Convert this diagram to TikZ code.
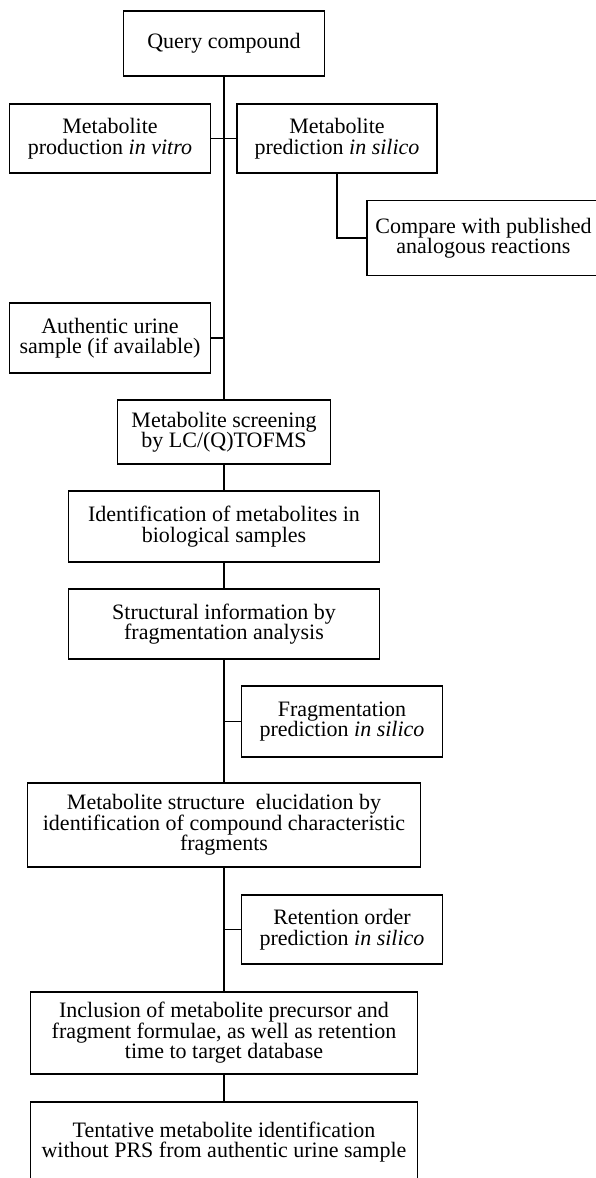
\documentclass[tikz,border=0pt]{standalone}
\usepackage{fontspec}
\setmainfont{Liberation Serif}
\usepackage{tikz}
\usetikzlibrary{positioning, calc}

\tikzset{
    box/.style={draw, line width=1.2pt, align=center, inner sep=0pt, font=\fontsize{22}{20.5}\selectfont},
    link/.style={line width=1.6pt}
}

\begin{document}
\begin{tikzpicture}[x=1pt, y=-1pt]
        \useasboundingbox (0,0) rectangle (595,1178);

        \node[box, minimum width=201pt, minimum height=65pt] (query) at (224,43.5) {Query compound};
        \node[box, minimum width=200.5pt, minimum height=69pt] (prodvitro) at (110,138.5) {Metabolite\\production \textit{in vitro}};
        \node[box, minimum width=200pt, minimum height=69pt] (predsilico) at (337,138.5) {Metabolite\\prediction \textit{in silico}};
        \node[box, minimum width=233pt, minimum height=75pt] (compare) at (483.5,238) {Compare with published\\analogous reactions};
        \node[box, minimum width=200.5pt, minimum height=70pt] (urine) at (110,338) {Authentic urine\\sample (if available)};
        \node[box, minimum width=213pt, minimum height=64pt] (screening) at (224,432) {Metabolite screening\\by LC/(Q)TOFMS};
        \node[box, minimum width=311pt, minimum height=71pt] (ident) at (224,526.5) {Identification of metabolites in\\biological samples};
        \node[box, minimum width=311pt, minimum height=70pt] (struct) at (224,624) {Structural information by\\fragmentation analysis};
        \node[box, minimum width=200.5pt, minimum height=71pt] (fragpred) at (342,721.5) {Fragmentation\\prediction \textit{in silico}};
        \node[box, minimum width=393.5pt, minimum height=84pt] (elucid) at (224,825) {Metabolite structure \ elucidation by\\identification of compound characteristic\\fragments};
        \node[box, minimum width=200.5pt, minimum height=69pt] (retpred) at (342,929.5) {Retention order\\prediction \textit{in silico}};
        \node[box, minimum width=387.5pt, minimum height=82pt] (inclusion) at (224,1033) {Inclusion of metabolite precursor and\\fragment formulae, as well as retention\\time to target database};
        \node[box, minimum width=387.5pt, minimum height=80pt] (tentative) at (224,1142) {Tentative metabolite identification\\without PRS from authentic urine sample};

        % main line and side branches
        \draw[link] (query) -- (screening);
        \draw[link] (prodvitro.east) -- (predsilico.west);
        \draw[link] (predsilico.south) |- (compare.west);
        \draw[link] (urine.east) -- (urine.east -| query.south);
        \foreach \a/\b in {screening/ident, ident/struct, struct/elucid, elucid/inclusion, inclusion/tentative} {
            \draw[link] (\a) -- (\b);
        }
        \draw[link] (fragpred.west) -- (fragpred.west -| struct.south);
        \draw[link] (retpred.west) -- (retpred.west -| elucid.south);

    \end{tikzpicture}
\end{document}
